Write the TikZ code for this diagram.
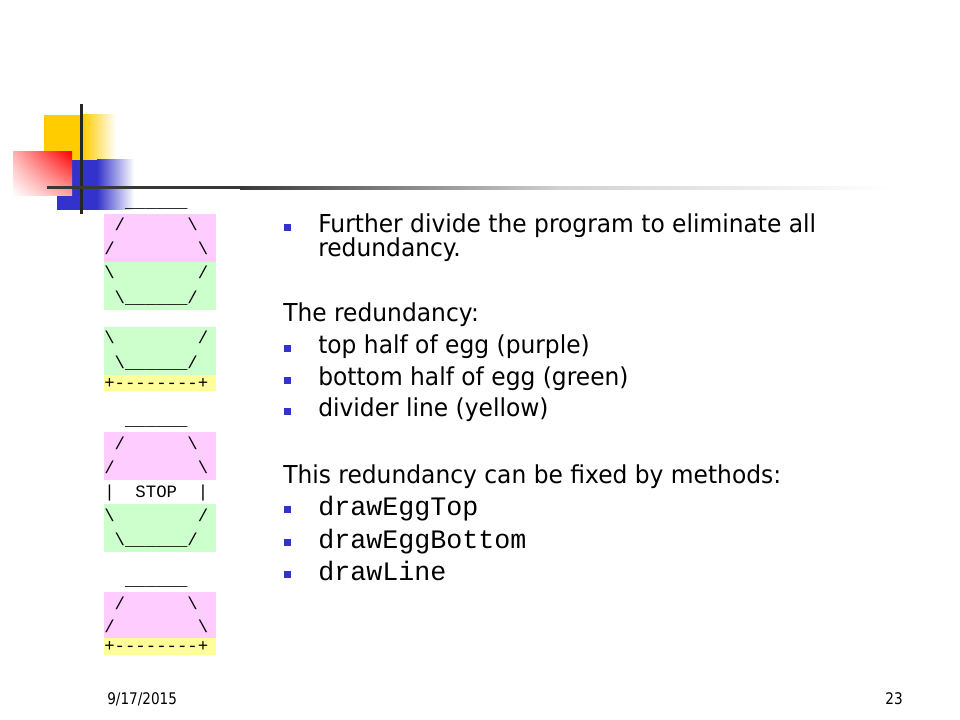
\documentclass[tikz,border=0pt]{standalone}
\usepackage{fontspec}
\setmainfont{DejaVu Sans}[FakeStretch=0.947]
\newfontfamily\footfont{DejaVu Sans}[FakeStretch=0.85]
\setmonofont{Liberation Mono}
\usetikzlibrary{positioning,shadings}

\definecolor{eggpink}{HTML}{FFCCFF}
\definecolor{egggreen}{HTML}{CCFFCC}
\definecolor{eggyellow}{HTML}{FFFF99}
\definecolor{bulletblue}{HTML}{3333CC}
\definecolor{logoyellow}{HTML}{FFCC00}
\definecolor{logoblue}{HTML}{3333CC}
\definecolor{barline}{HTML}{383838}

\tikzset{
  body/.style={anchor=base west, inner sep=0pt, font=\fontsize{18.5}{22}\selectfont},
  code/.style={anchor=base west, inner sep=0pt, font=\fontsize{20}{24}\selectfont\ttfamily},
  ascii/.style={anchor=base west, inner sep=0pt, font=\fontsize{13}{15}\selectfont\ttfamily},
  bullet/.style={fill=bulletblue, minimum size=5.25pt, inner sep=0pt},
  foot/.style={anchor=base west, inner sep=0pt, font=\fontsize{12}{15}\selectfont\footfont},
}

\begin{document}
\begin{tikzpicture}[x=0.75pt,y=0.75pt,yscale=-1,xscale=1]
            \useasboundingbox (0,0) rectangle (960,720);
            \fill[white] (0,0) rectangle (960,720);

            % logo
            \fill[logoyellow] (44,115) rectangle (83,160);
            \shade[left color=logoyellow, right color=white] (83,115) rectangle (116,160);
            \fill[logoblue] (57,160) rectangle (97,210);
            \shade[left color=logoblue, right color=white] (97,160) rectangle (134,210);
            \shade[upper right=red, lower left=white, upper left=red!30, lower right=red!35] (13,152) rectangle (72,196);
            \fill[black!85] (79.5,104) rectangle (82.5,214);
            \fill[barline] (47,186.5) rectangle (240,189.5);
            \shade[left color=barline, right color=black!18] (240,186.5) rectangle (560,189.5);
            \shade[left color=black!18, right color=white] (560,186.5) rectangle (890,189.5);

            % egg backgrounds
            \fill[eggpink] (104,214) rectangle (216,262);
            \fill[egggreen] (104,262) rectangle (216,310);
            \fill[egggreen] (104,327) rectangle (216,375);
            \fill[eggyellow] (104,375) rectangle (216,391);
            \fill[eggpink] (104,432) rectangle (216,480);
            \fill[egggreen] (104,504) rectangle (216,552);
            \fill[eggpink] (104,592) rectangle (216,638);
            \fill[eggyellow] (104,638) rectangle (216,655);

            % whole egg
            \node (eggA1) [ascii] at (104,208) {~~\_\_\_\_\_\_};
            \node (eggA2) [ascii] at (104,231) {~/~~~~~~\textbackslash};
            \node (eggA3) [ascii] at (104,255) {/~~~~~~~~\textbackslash};
            \node (eggA4) [ascii] at (104,279) {\textbackslash~~~~~~~~/};
            \node (eggA5) [ascii] at (104,303) {~\textbackslash\_\_\_\_\_\_/};
            % teacup
            \node (cupB1) [ascii] at (104,344) {\textbackslash~~~~~~~~/};
            \node (cupB2) [ascii] at (104,368) {~\textbackslash\_\_\_\_\_\_/};
            \node (cupB3) [ascii] at (104,388) {+--------+};
            % stop sign
            \node (stopC1) [ascii] at (104,425) {~~\_\_\_\_\_\_};
            \node (stopC2) [ascii] at (104,449) {~/~~~~~~\textbackslash};
            \node (stopC3) [ascii] at (104,473) {/~~~~~~~~\textbackslash};
            \node (stopC4) [ascii] at (104,497) {|~~STOP~~|};
            \node (stopC5) [ascii] at (104,521) {\textbackslash~~~~~~~~/};
            \node (stopC6) [ascii] at (104,545) {~\textbackslash\_\_\_\_\_\_/};
            % hat
            \node (hatD1) [ascii] at (104,585) {~~\_\_\_\_\_\_};
            \node (hatD2) [ascii] at (104,609) {~/~~~~~~\textbackslash};
            \node (hatD3) [ascii] at (104,632) {/~~~~~~~~\textbackslash};
            \node (hatD4) [ascii] at (104,651) {+--------+};

            % slide text
            \node (bulA) [bullet] at (287.5,228) {};
            \node (lineA) [body] at (318,233) {Further divide the program to eliminate all};
            \node (lineB) [body] at (318,257) {redundancy.};
            \node (headA) [body] at (283,321) {The redundancy:};
            \node (bulB) [bullet] at (287.5,348) {};
            \node (itemB) [body] at (318,353) {top half of egg (purple)};
            \node (bulC) [bullet] at (287.5,380) {};
            \node (itemC) [body] at (318,385) {bottom half of egg (green)};
            \node (bulD) [bullet] at (287.5,411) {};
            \node (itemD) [body] at (318,416) {divider line (yellow)};
            \node (headB) [body] at (283,483) {This redundancy can be fixed by methods:};
            \node (bulE) [bullet] at (287.5,509) {};
            \node (codeE) [code] at (318,515) {drawEggTop};
            \node (bulF) [bullet] at (287.5,542) {};
            \node (codeF) [code] at (318,548) {drawEggBottom};
            \node (bulG) [bullet] at (287.5,574) {};
            \node (codeG) [code] at (318,580) {drawLine};

            % footer
            \node (date) [foot] at (107,704) {9/17/2015};
            \node (page) [foot, anchor=base east] at (903,704) {23};
        \end{tikzpicture}
\end{document}
